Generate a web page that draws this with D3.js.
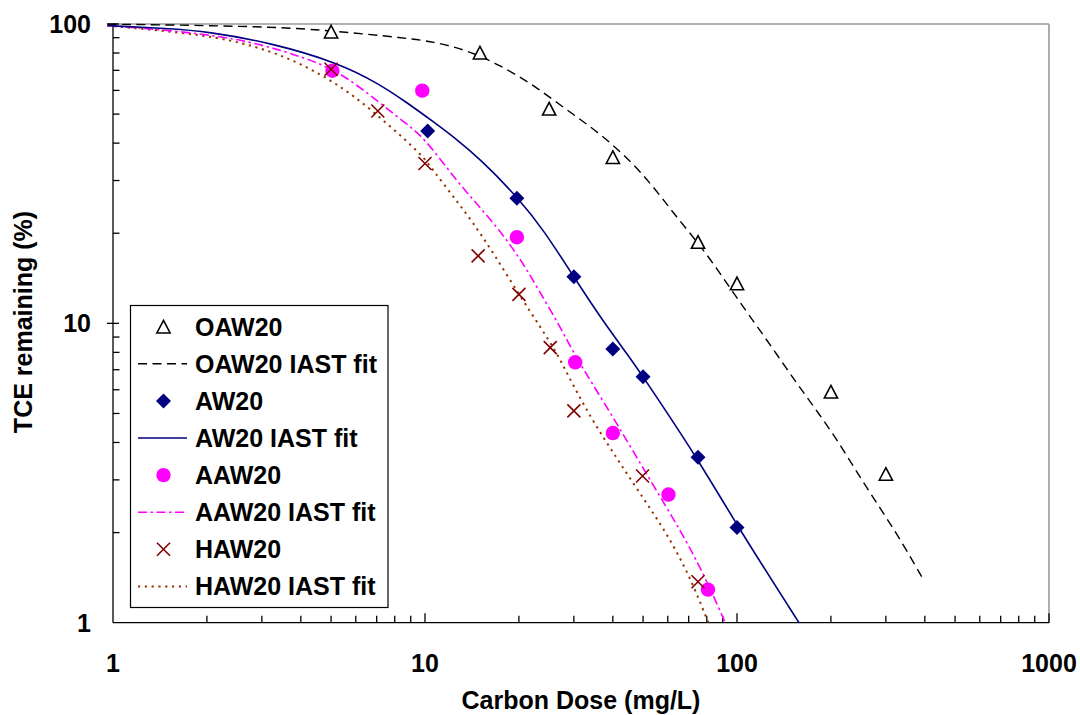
<!DOCTYPE html>
<html>
<head>
<meta charset="utf-8">
<script src="https://cdn.jsdelivr.net/npm/d3@7"></script>
<style>
  html, body { margin: 0; padding: 0; background: #fff; }
  svg { display: block; }
  text { font-family: "Liberation Sans", Arial, Helvetica, sans-serif; font-weight: bold; fill: #000; }
</style>
</head>
<body>
<svg id="chart" width="1080" height="715"></svg>
<script>
// Measured TCE remaining after carbon dosing
const doseOAW = [5, 15, 25, 40, 75, 100, 200, 300];
const remOAW  = [94.3, 80.2, 52.1, 35.9, 18.7, 13.6, 5.91, 3.14];

const doseAW = [10.2, 19.7, 30, 40, 50, 75, 100];
const remAW  = [43.9, 26.2, 14.3, 8.21, 6.63, 3.57, 2.08];

const doseAAW = [5.05, 9.8, 19.7, 30.3, 40, 60.3, 80.7];
const remAAW  = [69.8, 59.9, 19.4, 7.41, 4.3, 2.68, 1.29];

const doseHAW = [5, 7.06, 10, 14.8, 20, 25.2, 30, 49.8, 75];
const remHAW  = [70.6, 51.2, 34.2, 16.8, 12.5, 8.3, 5.1, 3.09, 1.37];

// IAST model curves
const fitDoseOAW = [0.96, 3.23, 5.28, 8.64, 10.6, 13.6, 17.4, 22.3, 28.5, 36.4, 46.6, 56.7, 62.6, 80.1, 97.4, 124.7, 159.4, 203.9, 254.4, 325.6, 396];
const fitRemOAW  = [99.9, 98.2, 94.5, 89.8, 87.3, 81.9, 72.9, 62.5, 51.6, 43.1, 34.2, 26.8, 23.3, 17.1, 12.6, 8.8, 6.06, 4.29, 2.92, 1.99, 1.39];

const fitDoseAW = [0.96, 1.5, 2, 3.23, 5.28, 7, 8.64, 10.77, 12.33, 15, 20, 24, 30, 36.4, 45.5, 50, 75, 100, 158];
const fitRemAW  = [98.8, 96.5, 94.5, 86.4, 74.1, 63.8, 55.2, 46.7, 42.0, 35.5, 26.1, 20.5, 14.3, 10.5, 7.64, 6.63, 3.52, 2.11, 1.0];

const fitDoseAAW = [0.96, 2, 3, 4.13, 5.28, 6.75, 8.64, 9.88, 12.33, 14.3, 17.0, 20, 22.8, 27.1, 30, 33.8, 41.2, 52.7, 65.8, 78.1, 91.7];
const fitRemAAW  = [98.9, 93, 85.5, 77, 69.5, 57.3, 46.7, 42.0, 30.9, 25.8, 21.0, 16.7, 13.3, 9.74, 7.94, 6.47, 4.63, 2.99, 2.04, 1.46, 1.0];

const fitDoseHAW = [0.96, 2, 2.85, 3.65, 4.67, 5.97, 7.63, 9.77, 10.6, 12.33, 14.3, 16.6, 20.2, 23.4, 26.5, 28.5, 33.8, 40.2, 48.9, 59.6, 70.8, 80.9];
const fitRemHAW  = [98.7, 92.1, 84.3, 77.0, 67.7, 57.3, 46.1, 36.6, 32.5, 26.5, 21.6, 17.1, 12.3, 9.74, 7.94, 6.81, 4.88, 3.68, 2.70, 1.99, 1.42, 1.0];

const xTickLabels = ["1", "10", "100", "1000"];
const yTickLabels = ["1", "10", "100"];

const legendLabels = ["OAW20", "OAW20 IAST fit", "AW20", "AW20 IAST fit", "AAW20", "AAW20 IAST fit", "HAW20", "HAW20 IAST fit"];

const svg = d3.select("#chart");

const plot = { left: 113, right: 1049, top: 24, bottom: 622.7 };

const x = d3.scaleLog().domain([1, 1000]).range([plot.left, plot.right]);
const y = d3.scaleLog().domain([1, 100]).range([plot.bottom, plot.top]);

const zip = (a, b) => a.map((d, i) => [d, b[i]]);

// plot area frame (grey top/right)
svg.append("line").attr("x1", plot.left).attr("x2", plot.right).attr("y1", plot.top).attr("y2", plot.top)
  .attr("stroke", "#999").attr("stroke-width", 1.6);
svg.append("line").attr("x1", plot.right).attr("x2", plot.right).attr("y1", plot.top).attr("y2", plot.bottom)
  .attr("stroke", "#999").attr("stroke-width", 1.6);

// axes
const axisG = svg.append("g").attr("stroke", "#000").attr("stroke-width", 1.3);
axisG.append("line").attr("x1", plot.left).attr("x2", plot.right).attr("y1", plot.bottom).attr("y2", plot.bottom);
axisG.append("line").attr("x1", plot.left).attr("x2", plot.left).attr("y1", plot.top).attr("y2", plot.bottom);

const isMajor = v => Math.abs(Math.log10(v) - Math.round(Math.log10(v))) < 1e-9;

x.ticks().forEach(v => {
  const px = x(v);
  if (v === 1) return;
  const len = isMajor(v) ? 9.5 : 7;
  axisG.append("line").attr("x1", px).attr("x2", px).attr("y1", plot.bottom).attr("y2", plot.bottom - len);
});
y.ticks().forEach(v => {
  const py = y(v);
  if (v === 1) return;
  if (isMajor(v)) {
    axisG.append("line").attr("x1", plot.left - 6).attr("x2", plot.left + 6).attr("y1", py).attr("y2", py);
  } else {
    axisG.append("line").attr("x1", plot.left).attr("x2", plot.left + 6.5).attr("y1", py).attr("y2", py);
  }
});

// tick labels
const xMajors = [1, 10, 100, 1000];
svg.append("g").selectAll("text").data(xMajors).join("text")
  .attr("x", d => x(d)).attr("y", 672)
  .attr("text-anchor", "middle").attr("font-size", 25)
  .text((d, i) => xTickLabels[i]);

const yMajors = [1, 10, 100];
svg.append("g").selectAll("text").data(yMajors).join("text")
  .attr("x", 91).attr("y", d => y(d) + 9)
  .attr("text-anchor", "end").attr("font-size", 25)
  .text((d, i) => yTickLabels[i]);

// axis titles
svg.append("text").attr("x", (plot.left + plot.right) / 2).attr("y", 709)
  .attr("text-anchor", "middle").attr("font-size", 25).text("Carbon Dose (mg/L)");
svg.append("text").attr("transform", "translate(31.5,322) rotate(-90)")
  .attr("text-anchor", "middle").attr("font-size", 25).text("TCE remaining (%)");

// clip for model curves
svg.append("defs").append("clipPath").attr("id", "plotClip")
  .append("rect").attr("x", 100).attr("y", plot.top - 2).attr("width", plot.right - 100).attr("height", plot.bottom - plot.top + 2);

const line = d3.line().x(d => x(d[0])).y(d => y(d[1])).curve(d3.curveBasis);

const styles = {
  oawFit: { stroke: "#000", width: 1.4, dash: "9,5.5" },
  awFit:  { stroke: "#000080", width: 1.6, dash: null },
  aawFit: { stroke: "#ff00ff", width: 1.6, dash: "9,3.5,2.5,3.5" },
  hawFit: { stroke: "#993300", width: 2, dash: "2.2,4.6" }
};

const curves = svg.append("g").attr("clip-path", "url(#plotClip)").attr("fill", "none");
[
  [zip(fitDoseHAW, fitRemHAW), styles.hawFit],
  [zip(fitDoseAAW, fitRemAAW), styles.aawFit],
  [zip(fitDoseAW, fitRemAW), styles.awFit],
  [zip(fitDoseOAW, fitRemOAW), styles.oawFit]
].forEach(([pts, s]) => {
  curves.append("path").attr("d", line(pts))
    .attr("stroke", s.stroke).attr("stroke-width", s.width)
    .attr("stroke-dasharray", s.dash);
});

// marker shapes
const triPath = "M0,-6.3L6.6,6.3L-6.6,6.3Z";
const diaPath = "M0,-7.5L7.5,0L0,7.5L-7.5,0Z";
const crossPath = "M-6.5,-6.5L6.5,6.5M-6.5,6.5L6.5,-6.5";

function drawMarker(g, type, cx, cy) {
  if (type === "tri") {
    g.append("path").attr("d", triPath).attr("transform", `translate(${cx},${cy})`)
      .attr("fill", "#fff").attr("stroke", "#000").attr("stroke-width", 1.6);
  } else if (type === "dia") {
    g.append("path").attr("d", diaPath).attr("transform", `translate(${cx},${cy})`)
      .attr("fill", "#000080");
  } else if (type === "circ") {
    g.append("circle").attr("cx", cx).attr("cy", cy).attr("r", 7.2).attr("fill", "#ff00ff");
  } else if (type === "cross") {
    g.append("path").attr("d", crossPath).attr("transform", `translate(${cx},${cy})`)
      .attr("fill", "none").attr("stroke", "#800000").attr("stroke-width", 1.6);
  }
}

const marks = svg.append("g");
zip(doseOAW, remOAW).forEach(d => drawMarker(marks, "tri", x(d[0]), y(d[1])));
zip(doseAW, remAW).forEach(d => drawMarker(marks, "dia", x(d[0]), y(d[1])));
zip(doseAAW, remAAW).forEach(d => drawMarker(marks, "circ", x(d[0]), y(d[1])));
zip(doseHAW, remHAW).forEach(d => drawMarker(marks, "cross", x(d[0]), y(d[1])));

// legend
const leg = svg.append("g");
leg.append("rect").attr("x", 130.5).attr("y", 305.5).attr("width", 257.5).attr("height", 302)
  .attr("fill", "#fff").attr("stroke", "#000").attr("stroke-width", 1.2);

const legendKinds = [
  { marker: "tri" }, { line: styles.oawFit },
  { marker: "dia" }, { line: styles.awFit },
  { marker: "circ" }, { line: styles.aawFit },
  { marker: "cross" }, { line: styles.hawFit }
];

legendKinds.forEach((k, i) => {
  const cy = 326.7 + i * 37.1;
  if (k.marker) {
    drawMarker(leg, k.marker, 163.5, cy);
  } else {
    leg.append("line").attr("x1", 138).attr("x2", 187).attr("y1", cy).attr("y2", cy)
      .attr("stroke", k.line.stroke).attr("stroke-width", k.line.width)
      .attr("stroke-dasharray", k.line.dash);
  }
  leg.append("text").attr("x", 195).attr("y", cy + 9).attr("font-size", 25).text(legendLabels[i]);
});
</script>
</body>
</html>
